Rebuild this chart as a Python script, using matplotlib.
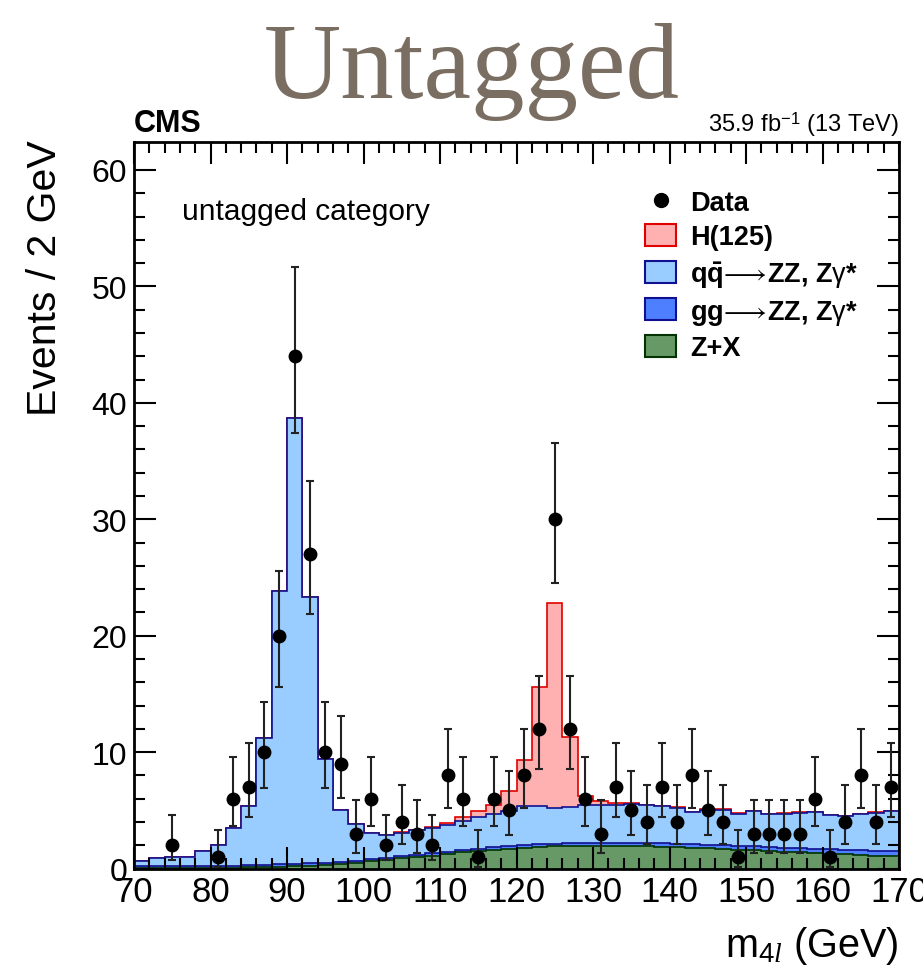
import numpy as np
import matplotlib
matplotlib.use("Agg")
import matplotlib.pyplot as plt
from matplotlib.patches import Patch
from matplotlib.lines import Line2D

plt.rcParams['font.family'] = ['Liberation Sans', 'DejaVu Sans']
plt.rcParams['mathtext.fontset'] = 'custom'
plt.rcParams['mathtext.rm'] = 'Liberation Sans'
plt.rcParams['mathtext.it'] = 'Liberation Serif:italic'
plt.rcParams['mathtext.bf'] = 'Liberation Sans:bold'

# 2 GeV bins from 70 to 170 GeV
mass_edges = np.arange(70, 171, 2)

# expected yields per bin (events / 2 GeV)
zx_yield = [0.01, 0.02, 0.03, 0.04, 0.05, 0.06, 0.08, 0.10, 0.13, 0.16,
            0.20, 0.25, 0.32, 0.40, 0.50, 0.62, 0.75, 0.88, 1.00, 1.12,
            1.25, 1.38, 1.50, 1.62, 1.72, 1.80, 1.86, 1.90, 1.93, 1.95,
            1.95, 1.94, 1.93, 1.91, 1.88, 1.85, 1.80, 1.75, 1.70, 1.63,
            1.57, 1.50, 1.44, 1.38, 1.32, 1.27, 1.22, 1.17, 1.12, 1.08]
ggzz_yield = [0.18, 0.18, 0.18, 0.18, 0.18, 0.18, 0.18, 0.18, 0.19, 0.19,
              0.19, 0.19, 0.19, 0.19, 0.19, 0.19, 0.19, 0.20, 0.20, 0.20,
              0.21, 0.21, 0.22, 0.22, 0.23, 0.23, 0.24, 0.24, 0.25, 0.25,
              0.26, 0.26, 0.27, 0.27, 0.28, 0.28, 0.29, 0.30, 0.31, 0.32,
              0.33, 0.34, 0.35, 0.36, 0.37, 0.38, 0.39, 0.40, 0.41, 0.42]
qqzz_yield = [0.50, 0.67, 0.79, 0.78, 1.24, 1.80, 3.19, 5.12, 10.88, 23.45,
              38.31, 22.86, 8.89, 4.46, 3.11, 2.23, 1.90, 2.00, 2.11, 2.18,
              2.29, 2.51, 2.73, 2.84, 2.98, 3.31, 3.24, 3.06, 3.12, 3.25,
              3.29, 3.30, 3.33, 3.27, 3.20, 3.08, 2.73, 3.02, 3.06, 2.77,
              3.04, 2.82, 2.93, 3.06, 3.17, 2.92, 2.90, 3.09, 3.27, 3.43]
higgs_yield = [0.0, 0.0, 0.0, 0.0, 0.0, 0.0, 0.0, 0.0, 0.0, 0.0,
               0.0, 0.0, 0.0, 0.0, 0.0, 0.01, 0.01, 0.02, 0.04, 0.10,
               0.20, 0.30, 0.45, 0.77, 1.75, 4.00, 10.26, 17.60, 6.00, 0.75,
               0.30, 0.10, 0.07, 0.05, 0.04, 0.04, 0.03, 0.03, 0.03, 0.02,
               0.02, 0.02, 0.02, 0.02, 0.02, 0.02, 0.02, 0.02, 0.02, 0.02]

# observed events (bins with zero events are not drawn)
data_mass = [75, 81, 83, 85, 87, 89, 91, 93, 95, 97, 99, 101, 103, 105, 107,
             109, 111, 113, 115, 117, 119, 121, 123, 125, 127, 129, 131, 133,
             135, 137, 139, 141, 143, 145, 147, 149, 151, 153, 155, 157, 159,
             161, 163, 165, 167, 169]
data_counts = [2, 1, 6, 7, 10, 20, 44, 27, 10, 9, 3, 6, 2, 4, 3,
               2, 8, 6, 1, 6, 5, 8, 12, 30, 12, 6, 3, 7,
               5, 4, 7, 4, 8, 5, 4, 1, 3, 3, 3, 3, 6,
               1, 4, 8, 4, 7]

# 68% Poisson intervals (low, high) for the observed counts
poisson_band = {1: (0.17, 3.30), 2: (0.71, 4.64), 3: (1.37, 5.92),
                4: (2.09, 7.16), 5: (2.84, 8.38), 6: (3.62, 9.58),
                7: (4.42, 10.77), 8: (5.23, 11.95), 9: (6.06, 13.11),
                10: (6.89, 14.27), 12: (8.58, 16.55), 20: (15.57, 25.54),
                27: (21.84, 33.26), 30: (24.56, 36.54), 44: (37.39, 51.68)}

fig = plt.figure(figsize=(9.23, 9.79), dpi=100)
ax = fig.add_axes([0.1452, 0.1118, 0.8288, 0.7421])

stack_zx = np.array(zx_yield)
stack_gg = stack_zx + np.array(ggzz_yield)
stack_qq = stack_gg + np.array(qqzz_yield)
stack_h = stack_qq + np.array(higgs_yield)

layers = [
    (stack_h, '#ffb0b0', '#e00000'),
    (stack_qq, '#99ccff', '#101090'),
    (stack_gg, '#4d7fff', '#101090'),
    (stack_zx, '#669966', '#003300'),
]
for vals, fc, ec in layers:
    ax.stairs(vals, mass_edges, baseline=0, fill=True,
              facecolor=fc, edgecolor=ec, lw=1.2)

err_lo = [n - poisson_band[n][0] for n in data_counts]
err_hi = [poisson_band[n][1] - n for n in data_counts]
ax.errorbar(data_mass, data_counts, yerr=[err_lo, err_hi], fmt='o',
            color='black', ecolor='#222222', ms=9, elinewidth=1.5,
            capsize=3, capthick=1.5, zorder=5)

ax.set_xlim(70, 170)
ax.set_ylim(0, 62.4)
ax.set_xticks(np.arange(70, 171, 10))
ax.set_xticks(np.arange(70, 171, 2), minor=True)
ax.set_yticks(np.arange(0, 61, 10))
ax.set_yticks(np.arange(0, 62, 2), minor=True)
ax.tick_params(which='both', direction='in', top=True, right=True,
               width=1.5)
ax.tick_params(which='major', length=16)
ax.tick_params(which='minor', length=8)
ax.tick_params(axis='x', pad=5, labelsize=25)
ax.tick_params(axis='y', pad=5, labelsize=23)
for sp in ax.spines.values():
    sp.set_linewidth(2)

fig.text(45 / 923, 1 - 140 / 979, 'Events / 2 GeV', rotation=90,
         ha='center', va='top', fontsize=29.5)
fig.text(899 / 923, 1 - 957 / 979, r'm$_{\mathrm{4}\mathit{l}}$ (GeV)',
         ha='right', va='baseline', fontsize=28.5)

fig.text(472 / 923, 1 - 98 / 979, 'Untagged', ha='center', va='baseline',
         fontsize=77, family='Liberation Serif', color='#7a6e62')
fig.text(134 / 923, 1 - 132 / 979, 'CMS', ha='left', va='baseline',
         fontsize=22, weight='bold')
fig.text(899 / 923, 1 - 132 / 979, r'35.9 fb$^{-1}$ (13 TeV)', ha='right',
         va='baseline', fontsize=17)

ax.text(0.063, 0.905, 'untagged category', transform=ax.transAxes,
        ha='left', va='center', fontsize=21.5)

handles = [
    Line2D([], [], marker='o', color='black', ls='none', ms=10),
    Patch(facecolor='#ffb0b0', edgecolor='#e00000', lw=1.5),
    Patch(facecolor='#99ccff', edgecolor='#101090', lw=1.5),
    Patch(facecolor='#4d7fff', edgecolor='#101090', lw=1.5),
    Patch(facecolor='#669966', edgecolor='#003300', lw=1.5),
]
arrow = r'$\!\longrightarrow\!$'
labels = ['Data', 'H(125)',
          r'$\mathbf{q\bar{q}}$' + arrow + r'ZZ, Z$\mathrm{\gamma}$*',
          'gg' + arrow + r'ZZ, Z$\mathrm{\gamma}$*', 'Z+X']
ax.legend(handles, labels, loc='upper left', bbox_to_anchor=(0.668, 0.935),
          frameon=False, prop={'weight': 'bold', 'size': 19.5},
          handlelength=1.15, handleheight=0.89, handletextpad=0.52,
          labelspacing=0.3, borderpad=0, borderaxespad=0)

fig.savefig('out.png', dpi=100)
